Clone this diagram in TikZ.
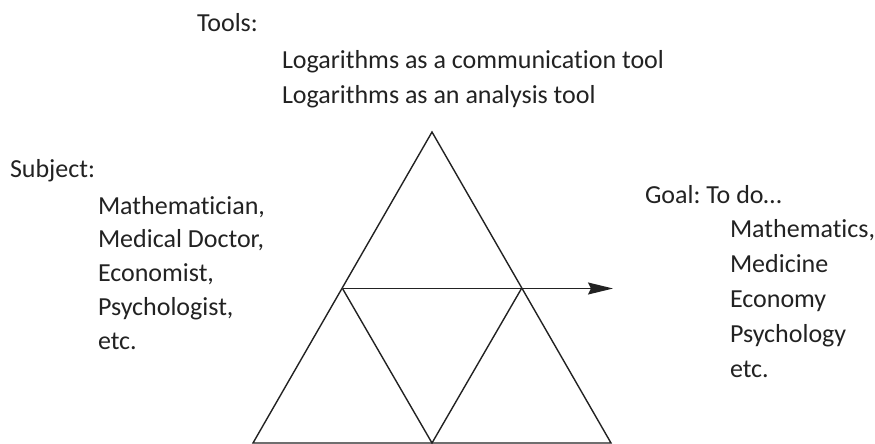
\documentclass[tikz,border=0pt]{standalone}
\usepackage{fontspec}
\setmainfont[RawFeature={-liga;-clig}]{Carlito}
\frenchspacing
\usetikzlibrary{arrows.meta}
\definecolor{ink}{HTML}{222222}
\tikzset{
  lbl/.style={anchor=base west, inner sep=0pt, outer sep=0pt, font=\fontsize{26}{31}\selectfont, text=ink},
  edge/.style={draw=ink, line width=1.4pt},
}
\begin{document}
\begin{tikzpicture}[x=1pt,y=-1pt]
\useasboundingbox (0,0) rectangle (875,444);
% triangle vertices
\coordinate (apex) at (432,132);
\coordinate (bl) at (253,443);
\coordinate (br) at (611,443);
\coordinate (bm) at (432,443);
\coordinate (ml) at (342.5,288.5);
\coordinate (mr) at (521.5,288.5);
\coordinate (tip) at (613,288.5);
\draw[edge, line join=miter] (apex) -- (bl) -- (br) -- cycle;
\draw[edge] (ml) -- (bm) -- (mr);
\draw[edge, -{Stealth[length=25pt,width=12pt,inset=3pt]}] (ml) -- (tip);
% texts
\node[lbl] (tools) at (197,32) {Tools:};
\node[lbl] (t1) at (282,69) {Logarithms as a communication tool};
\node[lbl] (t2) at (282,103) {Logarithms as an analysis tool};
\node[lbl] (subj) at (10,177) {Subject:};
\node[lbl] (s1) at (98,214) {Mathematician,};
\node[lbl] (s2) at (98,247) {Medical Doctor,};
\node[lbl] (s3) at (98,281) {Economist,};
\node[lbl] (s4) at (98,315) {Psychologist,};
\node[lbl] (s5) at (98,349) {etc.};
\node[lbl] (goal) at (645,203) {Goal: To do\dots};
\node[lbl] (g1) at (730,237) {Mathematics,};
\node[lbl] (g2) at (730,272) {Medicine};
\node[lbl] (g3) at (730,307) {Economy};
\node[lbl] (g4) at (730,342) {Psychology};
\node[lbl] (g5) at (730,377) {etc.};
\end{tikzpicture}
\end{document}
